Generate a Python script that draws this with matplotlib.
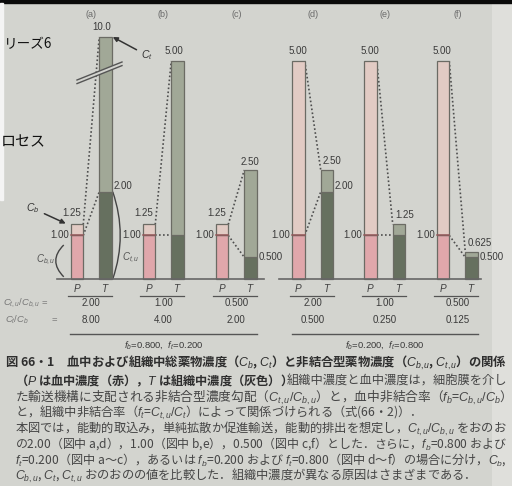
import matplotlib
matplotlib.use("Agg")
import matplotlib.pyplot as plt
import numpy as np
from matplotlib.patches import Polygon, PathPatch, Rectangle
from matplotlib.path import Path

plt.rcParams['font.family'] = ['Liberation Sans', 'DejaVu Sans']
plt.rcParams['mathtext.fontset'] = 'custom'
plt.rcParams['mathtext.it'] = 'Liberation Sans:italic'
plt.rcParams['mathtext.rm'] = 'Liberation Sans'
plt.rcParams['mathtext.bf'] = 'Liberation Sans:bold'
JP = ['Noto Sans CJK JP', 'DejaVu Sans']

# ---- data -------------------------------------------------------------
panels = ['(a)', '(b)', '(c)', '(d)', '(e)', '(f)']
bar_letters = ['P', 'T']
plasma_total = [1.25, 1.25, 1.25, 5.00, 5.00, 5.00]
plasma_unbound = [1.00, 1.00, 1.00, 1.00, 1.00, 1.00]
tissue_total = [10.0, 5.00, 2.50, 2.50, 1.25, 0.625]
tissue_unbound = [2.00, 1.00, 0.500, 2.00, 1.00, 0.500]

# ---- layout / style ---------------------------------------------------
W_PX, H_PX = 512, 486
BASE_ROW = 279.0          # pixel row of the zero line
UNIT = 43.6               # pixels per concentration unit
BROKEN = 0                # panel whose tissue bar is drawn with an axis break
BRK_START, BRK_K = 4.6, 0.176

BG = '#d3d4cf'
PINK_U, PINK_B = '#e0a7ab', '#e2cbc4'
GRAY_U, GRAY_B = '#66705f', '#a1a897'
EDGE = '#6b6b64'
INK = '#3a3a3a'

p_x = np.array([77, 149, 222, 298.5, 370.5, 443.0])
t_x = p_x + 28.5
BW = 12.5


def shown(v, broken):
    if broken and v > BRK_START:
        return BRK_START + (v - BRK_START) * BRK_K
    return v


def fmt(v):
    """three significant figures, keeping trailing zeros"""
    decimals = max(0, 2 - int(np.floor(np.log10(abs(v)))))
    return f'{v:.{decimals}f}'


def u(px):
    """pixel offset -> concentration units"""
    return px / UNIT


fig = plt.figure(figsize=(W_PX / 100, H_PX / 100), dpi=100, facecolor=BG)
ax = fig.add_axes([0, 0, 1, 1])
ax.set_xlim(0, W_PX)
ax.set_ylim((BASE_ROW - H_PX) / UNIT, BASE_ROW / UNIT)
ax.axis('off')
deco = fig.add_axes([0, 0, 1, 1], zorder=5)
deco.set_xlim(0, W_PX)
deco.set_ylim(H_PX, 0)
deco.axis('off')
deco.patch.set_alpha(0)

# lighter paper edge on the right, behind everything
ax.axvspan(492, W_PX, color='#dfdfdb', lw=0, zorder=0)

lab_kw = dict(fontsize=7.0, color=INK)

# ---- bars ---------------------------------------------------------------
for i in range(len(panels)):
    p, t = p_x[i], t_x[i]
    pu, pt = plasma_unbound[i], plasma_total[i]
    tu, tt = tissue_unbound[i], tissue_total[i]
    ttop = shown(tt, i == BROKEN)

    ax.bar(p, pu, BW, color=PINK_U, edgecolor=EDGE, lw=0.9, zorder=2)
    ax.bar(p, pt - pu, BW, bottom=pu, color=PINK_B, edgecolor=EDGE, lw=0.9, zorder=2)
    ax.plot([p - BW / 2, p + BW / 2], [pu, pu], color='#94585a', lw=1.1, zorder=3)
    ax.bar(t, tu, BW, color=GRAY_U, edgecolor=EDGE, lw=0.9, zorder=2)
    ax.bar(t, ttop - tu, BW, bottom=tu, color=GRAY_B, edgecolor=EDGE, lw=0.9, zorder=2)

    # dotted connectors plasma -> tissue
    ax.plot([p + BW / 2, t - BW / 2], [pt, ttop], ls=(0, (1, 1.4)), color='#4e4e4e', lw=1.2, zorder=1)
    ax.plot([p + BW / 2, t - BW / 2], [pu, tu], ls=(0, (1, 1.4)), color='#4e4e4e', lw=1.2, zorder=1)

    # panel title
    ax.text((p + t) / 2, u(BASE_ROW - 14), panels[i], ha='center', va='center',
            fontsize=6.5, color='#6a6a6a')

    # plasma labels
    if pt > 2:
        ax.text(p - 1, pt + u(10), fmt(pt), ha='center', va='center', **lab_kw)
    else:
        ax.text(p + 4, pt + u(12), fmt(pt), ha='right', va='center', **lab_kw)
    ax.text(p - BW / 2 - 2, pu, fmt(pu), ha='right', va='center', **lab_kw)

    # tissue labels
    if tt >= 5:
        ax.text(t - 4, ttop + u(10), fmt(tt), ha='center', va='center', **lab_kw)
    elif i < 3:
        ax.text(t - 1, ttop + u(8), fmt(tt), ha='center', va='center', **lab_kw)
    else:
        ax.text(t - 4, ttop + u(9), fmt(tt), ha='left', va='center', **lab_kw)
    if tu != plasma_unbound[i]:
        dy = u(6) if tu > pu else 0
        ax.text(t + BW / 2 + 1.5, tu + dy, fmt(tu), ha='left', va='center', **lab_kw)

    # P / T letters with underline
    for xx, letter in zip((p, t), bar_letters):
        ax.text(xx, u(-9), f'${letter}$', ha='center', va='center', fontsize=7.2, color='#404040')
    ax.plot([p - 9, t + 6.5], [u(-17), u(-17)], color='#555', lw=0.9)

    # ratio rows
    ax.text((p + t) / 2, u(-24), fmt(tu / pu), ha='center', va='center', fontsize=7.0, color=INK)
    ax.text((p + t) / 2, u(-41), fmt(tt / pt), ha='center', va='center', fontsize=7.0, color=INK)

# zero lines for the two groups
ax.plot([p_x[0] - 20, t_x[2] + 13], [0, 0], color='#666', lw=1.2, zorder=3)
ax.plot([p_x[3] - 19.5, t_x[5] + 9], [0, 0], color='#666', lw=1.2, zorder=3)

# group lines and unbound fractions
for g, (a, b) in enumerate([(0, 2), (3, 5)]):
    x0, x1 = p_x[a] - 7, t_x[b] + 6
    ax.plot([x0, x1], [u(-55), u(-55)], color='#555', lw=1.0)
    fb = plasma_unbound[a] / plasma_total[a]
    ft = tissue_unbound[a] / tissue_total[a]
    ax.text((x0 + x1) / 2, u(-66), f'$f_b$={fmt(fb)},  $f_t$={fmt(ft)}', ha='center', va='center',
            fontsize=6.8, color=INK)

ax.text(3, u(-24), '$C_{t,u}/C_{b,u}$ =', ha='left', va='center', fontsize=6.8, color='#777')
ax.text(5, u(-41), '$C_t/C_b$', ha='left', va='center', fontsize=6.8, color='#777')
ax.text(52, u(-41), '=', ha='left', va='center', fontsize=6.8, color='#777')

# ---- annotations on panel (a) -----------------------------------------
ta, pa = t_x[0], p_x[0]
ax.annotate('$C_t$', xy=(ta + BW / 2 + 1, shown(tissue_total[0], True)),
            xytext=(20, -13), textcoords='offset points', ha='left', va='center',
            fontsize=7.5, color='#333',
            arrowprops=dict(arrowstyle='-|>', color='#333', lw=1.1, mutation_scale=7,
                            shrinkA=1, shrinkB=0))
ax.annotate('$C_b$', xy=(pa - BW / 2 - 5, plasma_total[0] + u(1)),
            xytext=(-24, 11), textcoords='offset points', ha='center', va='center',
            fontsize=7.5, color='#333',
            arrowprops=dict(arrowstyle='-|>', color='#333', lw=1.1, mutation_scale=7,
                            shrinkA=2, shrinkB=0))
# bracket for Cb,u
pl = pa - BW / 2
ax.add_patch(PathPatch(Path([(pl - 7, 0.05), (pl - 23, 0.42), (pl - 7, 0.78)],
                            [Path.MOVETO, Path.CURVE3, Path.CURVE3]),
                       fill=False, ec='#444', lw=1.0))
ax.text(pl - 15, 0.45, '$C_{b,u}$', ha='right', va='center', fontsize=7, color='#555')
# bracket for Ct,u
tr = ta + BW / 2
ax.add_patch(PathPatch(Path([(tr + 1, 0.0), (tr + 16, tissue_unbound[0] / 2), (tr + 1, tissue_unbound[0])],
                            [Path.MOVETO, Path.CURVE3, Path.CURVE3]),
                       fill=False, ec='#444', lw=1.0))
ax.text(tr + 10, 0.48, '$C_{t,u}$', ha='left', va='center', fontsize=7, color='#555')

# axis-break marks across the tall bar
def brk(x):
    return 80 - 0.4 * (x - 77)

deco.add_patch(Polygon([(80, brk(80)), (121, brk(121)), (121, brk(121) + 3.6), (80, brk(80) + 3.6)],
                       closed=True, fc=BG, ec='none', zorder=4))
for off in (0, 3.6):
    deco.plot([77, 122], [brk(77) + off, brk(122) + off], color='#555', lw=1.0, zorder=5)

# ---- page decorations ---------------------------------------------------
deco.add_patch(Rectangle((0, 0), W_PX, 3, color='#0a0a0a', zorder=6))
deco.add_patch(Rectangle((0, 3), 3, 197, color='#f4f4f4', zorder=6))
deco.text(4, 44, 'リーズ6', ha='left', va='center', family=JP, fontsize=9.8, color='#111', zorder=7)
deco.text(1, 142, 'ロセス', ha='left', va='center', family=JP, fontsize=10.8, color='#111', zorder=7)

# ---- caption ------------------------------------------------------------
# (left, right edge or None for a paragraph's last line, row, segments)
caption = [
    (5, 508, 363, [('図 66・1　血中および組織中総薬物濃度（$C_b$, $C_t$）と非結合型薬物濃度（$C_{b,u}$, $C_{t,u}$）の関係', 'bold')]),
    (15, 507, 381, [('（$P$ は血中濃度（赤），$T$ は組織中濃度（灰色））', 'bold'),
                    ('組織中濃度と血中濃度は，細胞膜を介し', 'normal')]),
    (15, 507, 397, [('た輸送機構に支配される非結合型濃度勾配（$C_{t,u}/C_{b,u}$）と，血中非結合率（$f_b$=$C_{b,u}/C_b$）', 'normal')]),
    (15, None, 412.5, [('と，組織中非結合率（$f_t$=$C_{t,u}/C_t$）によって関係づけられる（式(66・2)）．', 'normal')]),
    (15, 507, 428.5, [('本図では，能動的取込み，単純拡散か促進輸送，能動的排出を想定し，$C_{t,u}/C_{b,u}$ をおのお', 'normal')]),
    (15, 507, 444, [('の2.00（図中 a,d），1.00（図中 b,e），0.500（図中 c,f）とした．さらに，$f_b$=0.800 および', 'normal')]),
    (15, 507, 460, [('$f_t$=0.200（図中 a〜c），あるいは $f_b$=0.200 および $f_t$=0.800（図中 d〜f）の場合に分け，$C_b$,', 'normal')]),
    (15, None, 476, [('$C_{b,u}$, $C_t$, $C_{t,u}$ おのおのの値を比較した．組織中濃度が異なる原因はさまざまである．', 'normal')]),
]

renderer = fig.canvas.get_renderer()
BASE_FS = 8.0


def measure(segs, fs):
    total = 0.0
    for s, w in segs:
        t = deco.text(0, 0, s, fontsize=fs, fontweight=w, family=JP, va='center')
        total += t.get_window_extent(renderer).width
        t.remove()
    return total


sizes = []
for x0, x1, y, segs in caption:
    if x1 is not None:
        sizes.append(BASE_FS * (x1 - x0) / measure(segs, BASE_FS))
    else:
        sizes.append(None)
typical = float(np.median([s for s in sizes if s is not None]))

for (x0, x1, y, segs), fs in zip(caption, sizes):
    fs = typical if fs is None else fs
    x = x0
    for s, w in segs:
        col = '#2e2e2e' if w == 'bold' else '#454545'
        t = deco.text(x, y, s, fontsize=fs, fontweight=w, family=JP, va='center', color=col)
        x += t.get_window_extent(renderer).width

fig.savefig('out.png', dpi=100, facecolor=BG)
